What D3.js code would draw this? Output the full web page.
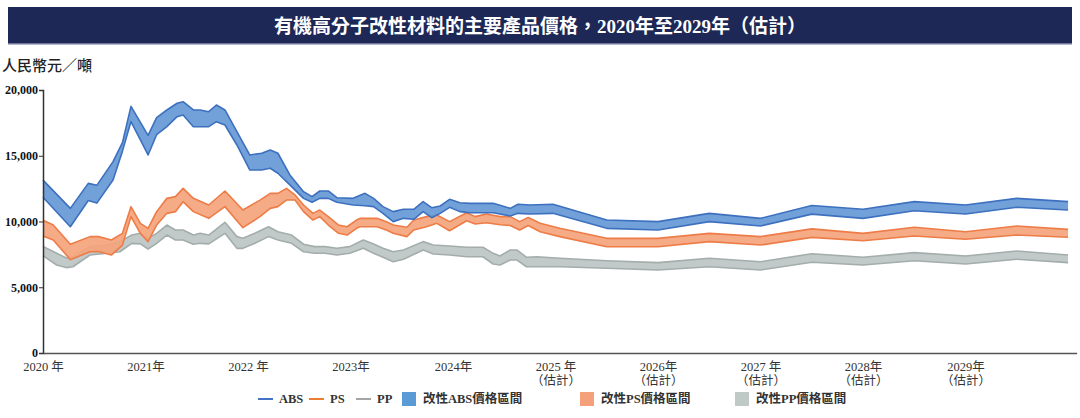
<!DOCTYPE html>
<html><head><meta charset="utf-8">
<script src="https://cdn.jsdelivr.net/npm/d3@7/dist/d3.min.js"></script>
<style>body{margin:0;background:#fff;} svg{display:block;}</style>
</head><body><svg id="c" width="1080" height="418"></svg>
<script>
// ---- data (months since Jan 2020) ----
const absMonth = [0,3.2,5.3,6.3,8.2,9.3,10.3,12.3,13.3,14.5,15.7,16.4,17.6,18.4,19.4,20.3,21.3,22.7,24.2,25.6,26.6,27.5,28.9,30.5,31.5,32.4,33.4,34.4,36.3,37.7,38.7,39.8,41.0,42.2,43.4,44.5,45.5,46.5,47.6,48.8,50.0,52.7,54.7,55.6,57.0,59.7,66,72,78,84,90,96,102,108,114,120];
const absHigh = [13150,11000,12900,12750,14550,16000,18750,16550,17900,18480,18990,19110,18480,18480,18350,18860,18480,16830,15060,15190,15440,15190,13540,12270,11890,12320,12320,11810,11760,12140,11760,11130,10750,10930,10930,11510,11050,11180,11690,11430,11380,11380,11000,11310,11255,11310,10110,9990,10620,10240,11220,10930,11510,11255,11760,11510];
const absLow = [11850,9600,11600,11400,13160,15350,17600,15060,16600,17210,17970,18100,17210,17210,17210,17590,17340,15820,13920,13920,14050,13670,12780,11760,11460,11760,11760,11460,11255,11200,11130,10620,9990,10240,10170,10750,10290,10620,11080,10750,10670,10670,10420,10620,10570,10620,9480,9350,9990,9660,10560,10240,10820,10570,11080,10870];

const psMonth = [0,1.2,3.2,5.5,6.5,8.0,9.3,10.3,11.4,12.3,13.3,14.5,15.5,16.4,17.6,19.4,21.3,23.4,25.4,26.6,27.5,28.5,29.5,30.5,31.6,32.4,33.4,34.6,35.6,36.7,37.1,39.1,40.2,41.0,42.6,43.4,44.9,46.1,47.6,49.6,50.6,51.9,53.5,54.7,55.8,56.8,58.2,60.5,66,72,78,84,90,96,102,108,114,120];
const psHigh = [10100,9730,8270,8850,8850,8590,9100,11130,9860,9480,10750,11760,11890,12520,11760,11255,12320,10870,11630,12140,12140,12520,12020,11255,10620,10870,10370,9730,9600,10110,10240,10240,9990,9730,9560,10110,10370,10490,9990,10670,10370,10570,10370,10370,9990,10300,9860,9480,8720,8720,9100,8850,9440,9100,9560,9220,9660,9400];
const psLow = [8900,8590,7100,7700,7720,7450,8210,10370,9100,8470,9730,10620,10750,11510,10750,10240,11130,9530,10370,11000,11130,11630,11630,10750,10110,10370,9730,9100,8970,9480,9600,9600,9350,9100,8850,9350,9600,9860,9300,10060,9810,9910,9750,9700,9350,9700,9220,8850,8080,8080,8470,8210,8790,8540,8900,8650,8970,8800];

const ppMonth = [0,1.6,2.8,3.5,5.5,7.5,9.0,10.4,11.4,12.3,13.3,14.5,15.5,16.4,17.6,18.4,19.4,21.3,22.7,23.4,24.8,26.4,27.5,29.1,30.5,31.8,33.0,34.4,35.9,37.5,38.7,39.8,41.0,42.2,44.5,45.7,47.6,49.6,51.5,52.7,53.5,54.7,55.5,56.6,57.8,60.5,66,72,78,84,90,96,102,108,114,120];
const ppHigh = [8100,7580,7200,7320,8090,8210,8470,8970,9100,8720,9100,9730,9350,9350,8970,9100,8970,9940,8850,8720,9100,9600,9220,8970,8270,8090,8090,7960,8090,8590,8290,7960,7700,7830,8470,8210,8140,8040,8040,7580,7380,7830,7830,7280,7320,7200,7020,6870,7200,6940,7550,7280,7630,7380,7760,7450];
const ppLow = [7400,6690,6490,6560,7450,7580,7700,8340,8300,7910,8340,8970,8590,8590,8270,8340,8300,9100,7960,7960,8340,8850,8590,8340,7700,7580,7580,7450,7580,7960,7580,7280,6940,7130,7830,7530,7450,7320,7320,6770,6690,7070,7070,6560,6560,6560,6440,6310,6560,6310,6900,6690,7020,6770,7130,6870];

const yearTicks = [0,12,24,36,48,60,72,84,96,108];
const yearLabels = ["2020 年","2021年","2022 年","2023年","2024年","2025 年","2026年","2027 年","2028年","2029年"];
const forecastNote = "（估計）";
const yTicks = [0,5000,10000,15000,20000];
const lineLegend = ["ABS","PS","PP"];
const bandLegend = ["改性ABS價格區間","改性PS價格區間","改性PP價格區間"];
const titleText = "有機高分子改性材料的主要產品價格，2020年至2029年（估計）";
const yTitle = "人民幣元／噸";

// ---- drawing ----
const svg = d3.select("#c");
const FONT = "'Liberation Serif','Noto Sans CJK TC',serif";
const x = d3.scaleLinear().domain([0,121]).range([43,1076.6]);
const y = d3.scaleLinear().domain([0,20000]).range([353,90]);

// title bar
svg.append("rect").attr("x",8).attr("y",7).attr("width",1064).attr("height",37).attr("fill","#1d2856");
svg.append("rect").attr("x",8).attr("y",43).attr("width",1064).attr("height",1.5).attr("fill","#6d7699");
svg.append("text").attr("x",540).attr("y",26).attr("text-anchor","middle").attr("dominant-baseline","central")
  .attr("fill","#fff").attr("font-family",FONT).attr("font-weight","bold").attr("font-size",19).text(titleText);

// y title
svg.append("text").attr("x",2).attr("y",71).attr("font-family","'Noto Sans CJK TC',sans-serif")
  .attr("font-size",15).attr("font-weight",500).attr("fill","#222").text(yTitle);

const series = [
  {m:ppMonth, hi:ppHigh, lo:ppLow, fill:"#bcc6c4", stroke:"#a3adab"},
  {m:psMonth, hi:psHigh, lo:psLow, fill:"#f4a47c", stroke:"#ee7c47"},
  {m:absMonth, hi:absHigh, lo:absLow, fill:"#6699d6", stroke:"#3d70bf"}
];
series.forEach(s=>{
  const data = s.m.map((m,i)=>({m, hi:s.hi[i], lo:s.lo[i]}));
  svg.append("path").datum(data)
    .attr("d", d3.area().x(d=>x(d.m)).y0(d=>y(d.lo)).y1(d=>y(d.hi)))
    .attr("fill", s.fill).attr("fill-opacity",0.92);
  ["hi","lo"].forEach(k=>{
    svg.append("path").datum(data)
      .attr("d", d3.line().x(d=>x(d.m)).y(d=>y(d[k])))
      .attr("fill","none").attr("stroke",s.stroke).attr("stroke-width",1.6).attr("stroke-linejoin","round");
  });
});

// y axis
const ya = svg.append("g").attr("transform","translate(43,0)")
  .call(d3.axisLeft(y).tickValues(yTicks).tickSize(4).tickFormat(d3.format(",")));
ya.select(".domain").attr("stroke","#333").attr("stroke-width",1.5);
ya.selectAll(".tick line").attr("stroke","#333");
ya.selectAll("text").attr("font-family",FONT).attr("font-weight","bold").attr("font-size",12).attr("fill","#111").attr("x",-5);

// x axis
const xa = svg.append("g").attr("transform","translate(0,353)")
  .call(d3.axisBottom(x).tickValues(yearTicks).tickSize(0).tickSizeOuter(0).tickFormat((d,i)=>yearLabels[i]));
xa.select(".domain").attr("stroke","#555").attr("stroke-width",1.5);
xa.selectAll(".tick text").each(function(d,i){
  const t = d3.select(this);
  t.text(null).attr("font-family",FONT).attr("font-size",12.5).attr("fill","#333").attr("y",9);
  t.append("tspan").attr("x",0).attr("dy","0.71em").text(yearLabels[i]);
  if (i>=5) t.append("tspan").attr("x",0).attr("dy","1.15em").text(forecastNote);
});

// legend
const lg = svg.append("g").attr("font-family",FONT).attr("font-size",12.5).attr("font-weight","bold").attr("fill","#333");
const lineColors = ["#4472c4","#ed7d31","#a5a5a5"];
const lineX = [258,309,356];
lineLegend.forEach((name,i)=>{
  lg.append("line").attr("x1",lineX[i]).attr("x2",lineX[i]+15).attr("y1",399).attr("y2",399)
    .attr("stroke",lineColors[i]).attr("stroke-width",2);
  lg.append("text").attr("x",lineX[i]+21).attr("y",399).attr("dominant-baseline","central").text(name);
});
const bandColors = ["#5b9bd5","#f4a07a","#bfc9c5"];
const bandX = [402,580,735];
bandLegend.forEach((name,i)=>{
  lg.append("rect").attr("x",bandX[i]).attr("y",392).attr("width",14).attr("height",14).attr("fill",bandColors[i]);
  lg.append("text").attr("x",bandX[i]+21).attr("y",399).attr("dominant-baseline","central").text(name);
});
</script></body></html>
